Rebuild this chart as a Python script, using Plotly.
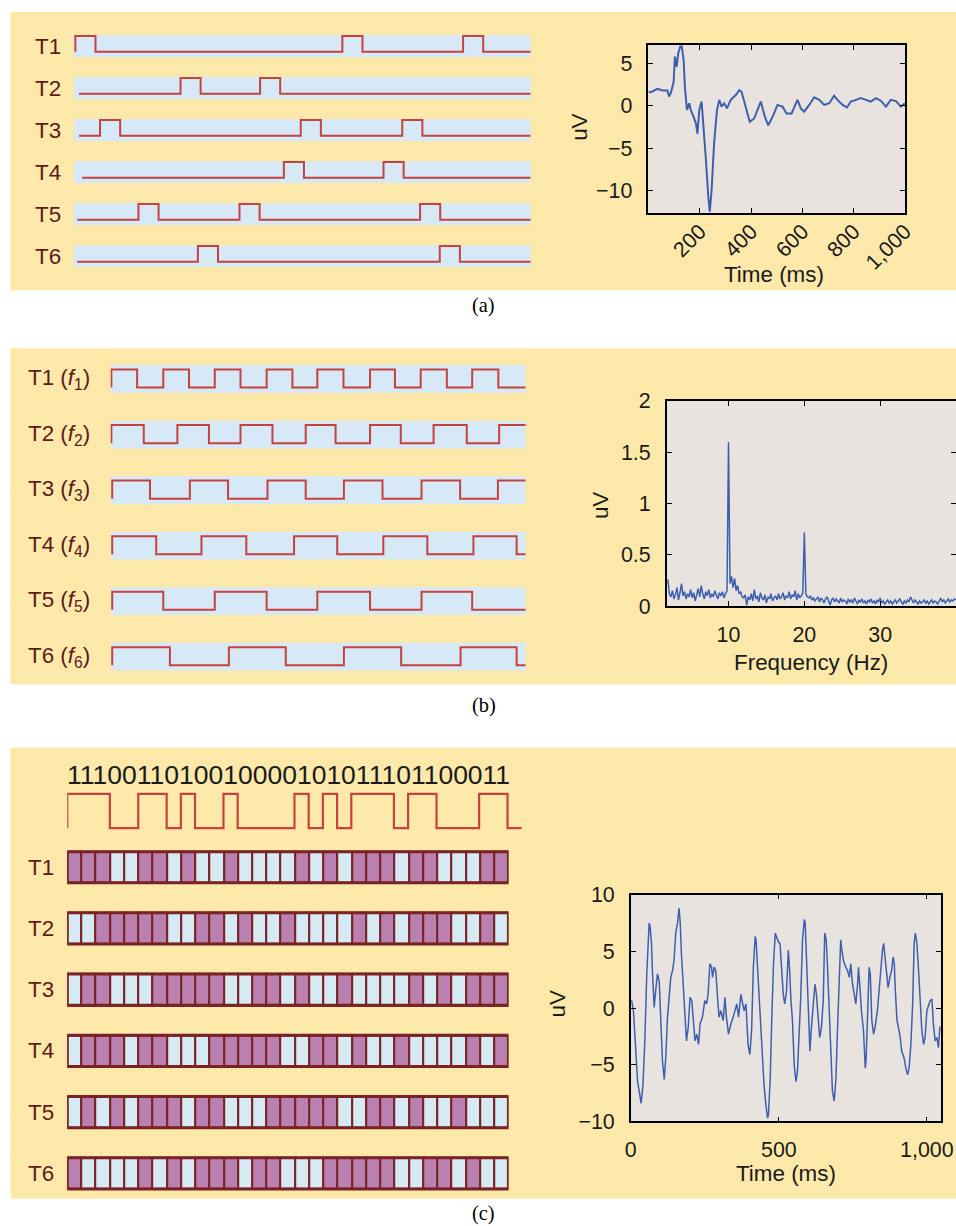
import numpy as np
import plotly.graph_objects as go

# The photographed page shows the plot slightly reduced and offset; positions below are
# reference-picture pixels, converted to page pixels with this calibration.
S, CX, CY = 0.98, 5.5, 12.0
PW, PH = 972, 1240

# ---------------- data ----------------
# (a) transient stimulation: row start and pulse onsets (time units 0..1000)
a_labels = ["T1", "T2", "T3", "T4", "T5", "T6"]
a_starts = [4, 12, 12, 19, 8, 8]
a_onsets = [[4, 588, 852], [234, 408], [58, 497, 719], [460, 678], [142, 363, 758], [272, 801]]
a_width = 44

erp_t = [0, 9, 35, 55, 74, 80, 87, 98, 103, 110, 116, 124, 130, 137, 142, 150, 159, 165, 176, 185,
         191, 198, 207, 215, 224, 233, 239, 246, 256, 267, 276, 285, 295, 306, 321, 341, 354, 363, 380, 395,
         412, 425, 438, 454, 467, 484, 503, 523, 538, 558, 581, 594, 607, 627, 646, 666, 685, 705, 724, 737,
         757, 774, 789, 809, 828, 848, 867, 887, 906, 926, 945, 965, 984, 1000]
erp_v = [1.65, 1.6, 2.0, 1.8, 1.8, 1.1, 1.5, 2.8, 5.8, 4.6, 6.2, 7.0, 7.0, 5.4, 2.2, -0.5, 0.3, -0.5, -1.3, -2.1,
         -3.3, -0.5, 0.5, -2.5, -6.4, -10.7, -12.5, -10.0, -4.4, -0.5, 0.7, -0.1, 0.3, -0.3, 0.7, 1.3, 1.85, 1.65, -0.1, -1.9,
         -1.5, -0.5, 0.5, -1.3, -2.3, -1.3, 0.1, -0.1, -0.9, -0.9, 0.7, -0.3, -0.7, 0.1, 1.0, 0.7, 0.1, 0.3, 1.2, 0.7,
         0.1, -0.2, 0.5, 0.7, 0.9, 0.7, 0.5, 0.9, 0.6, -0.1, 0.7, 0.55, -0.1, 0.3]

# (b) frequency-coded stimulation: edge times of each square wave (starts high)
b_labels = ["T1 (<i>f</i><sub>1</sub>)", "T2 (<i>f</i><sub>2</sub>)", "T3 (<i>f</i><sub>3</sub>)",
            "T4 (<i>f</i><sub>4</sub>)", "T5 (<i>f</i><sub>5</sub>)", "T6 (<i>f</i><sub>6</sub>)"]
b_edges = [
    [2, 64, 127, 189, 251, 313, 376, 438, 498, 561, 625, 685, 747, 810, 871, 934, 1000],
    [2, 80, 161, 237, 313, 390, 470, 542, 625, 699, 778, 858, 936, 1000],
    [4, 95, 191, 283, 378, 470, 562, 655, 749, 842, 933, 1000],
    [4, 110, 219, 327, 442, 546, 657, 763, 874, 978, 1000],
    [4, 127, 251, 376, 498, 625, 749, 871, 1000],
    [4, 143, 285, 422, 562, 700, 843, 978, 1000],
]

spec_f = np.round(np.arange(2.0, 40.0001, 0.2), 1)
spec_v = [0.26, 0.12, 0.09, 0.15, 0.07, 0.11, 0.18, 0.06, 0.13, 0.22,
          0.10, 0.14, 0.07, 0.12, 0.09, 0.16, 0.08, 0.13, 0.05, 0.11,
          0.17, 0.09, 0.20, 0.12, 0.07, 0.14, 0.10, 0.16, 0.08, 0.12,
          0.09, 0.15, 0.11, 0.07, 0.13, 0.10, 0.14, 0.08, 0.12, 0.15,
          1.60,
          0.22, 0.29, 0.18, 0.27, 0.15, 0.20, 0.12, 0.14, 0.09,
          0.08, 0.11, 0.01, 0.09, 0.06, 0.12, 0.05, 0.16, 0.07, 0.10,
          0.04, 0.13, 0.08, 0.06, 0.11, 0.03, 0.09, 0.07, 0.12, 0.05,
          0.08, 0.10, 0.06, 0.12, 0.07, 0.09, 0.13, 0.06, 0.10, 0.08,
          0.14, 0.07, 0.11, 0.09, 0.15, 0.06, 0.12, 0.08, 0.10, 0.13,
          0.72,
          0.12, 0.09, 0.08, 0.10, 0.06, 0.08, 0.05, 0.07, 0.09,
          0.04, 0.08, 0.06, 0.03, 0.07, 0.09, 0.05, 0.01, 0.06, 0.08,
          0.04, 0.07, 0.05, 0.03, 0.08, 0.04, 0.06, 0.05, 0.02, 0.07,
          0.04, 0.06, 0.03, 0.08, 0.05, 0.02, 0.06, 0.04, 0.07, 0.03,
          0.05, 0.02, 0.06, 0.04, 0.07, 0.03, 0.05, 0.02, 0.06, 0.04,
          0.08, 0.03, 0.05, 0.02, 0.04, 0.06, 0.03, 0.05, 0.02, 0.04,
          0.06, 0.03, 0.05, 0.07, 0.04, 0.02, 0.05, 0.03, 0.06, 0.04,
          0.09, 0.05, 0.03, 0.06, 0.04, 0.02, 0.05, 0.03, 0.04, 0.06,
          0.03, 0.05, 0.02, 0.04, 0.06, 0.03, 0.05, 0.04, 0.02, 0.05,
          0.08, 0.04, 0.06, 0.03, 0.05, 0.07, 0.04, 0.06, 0.05, 0.07, 0.06]

# (c) code-modulated stimulation
code_bits = "1110011010010000101011101100011"
c_labels = ["T1", "T2", "T3", "T4", "T5", "T6"]
c_rows = ["1110011010010000101011101100011",
          "0011111001101001000010101110010",
          "0110001111100110100100001010111",
          "0111011000111110011010010000101",
          "0101011101100011111001101001000",
          "1000010101110110001111100110100"]

eeg_t = [0, 3, 9, 17, 23, 30, 35, 41, 47, 54,
         59, 62, 65, 70, 73, 79, 84, 90, 96, 101,
         107, 113, 118, 124, 130, 135, 141, 146, 152, 158,
         163, 167, 171, 177, 182, 188, 194, 200, 206, 212,
         217, 223, 229, 234, 242, 250, 256, 261, 267, 273,
         276, 282, 287, 293, 298, 304, 312, 318, 323, 330,
         338, 346, 352, 358, 364, 372, 377, 383, 389, 396,
         402, 408, 414, 420, 423, 428, 434, 439, 445, 450,
         456, 462, 465, 471, 476, 482, 488, 493, 499, 504,
         509, 515, 520, 526, 532, 536, 541, 546, 552, 558,
         563, 569, 574, 580, 586, 589, 593, 599, 605, 610,
         616, 622, 627, 633, 638, 644, 650, 655, 660, 664,
         670, 676, 681, 687, 693, 698, 704, 709, 713, 718,
         726, 732, 738, 743, 749, 755, 760, 766, 769, 774,
         779, 786, 792, 795, 800, 805, 809, 814, 820, 825,
         833, 839, 845, 850, 854, 858, 864, 869, 875, 881,
         886, 890, 893, 899, 904, 910, 915, 923, 929, 935,
         940, 946, 952, 957, 961, 966, 972, 977, 983, 989,
         994, 1000, 1006, 1011, 1017, 1022, 1028, 1034, 1039, 1044,
         1047]
eeg_v = [0.5, 0.65, -0.24, -3.5, -6.5, -7.6, -8.4, -6.8, -3.2, 3.0,
         6.3, 7.5, 7.2, 5.7, 3.3, 0.06, 1.5, 3.0, 2.4, -1.7,
         -4.7, -6.3, -4.4, -0.8, 0.95, 2.7, 3.3, 4.2, 6.7, 7.5,
         8.8, 7.5, 4.8, 2.4, -0.5, -2.9, -1.7, 0.95, 0.65, -1.7,
         -2.9, -2.3, -3.2, -1.4, -0.8, 0.65, 0.36, 1.2, 3.9, 3.6,
         2.7, 3.6, 3.3, 0.95, -0.8, -0.24, -1.1, 0.95, -0.8, -2.3,
         -1.4, -0.8, -0.24, 0.36, -0.8, 1.2, 0.5, -0.24, 0.36, -3.2,
         -4.1, -2.0, 3.6, 6.3, 6.0, 3.6, -0.24, -2.0, -4.4, -6.8,
         -8.5, -9.7, -9.4, -6.2, -1.1, 3.9, 6.6, 6.3, 5.8, 5.7,
         3.9, 1.2, 0.36, 1.5, 5.1, 3.6, 0.65, -1.1, -5.0, -6.5,
         -5.6, -2.6, 0.95, 6.0, 7.8, 7.5, 4.8, -0.5, -3.8, -1.7,
         0.36, 2.1, 1.2, -1.1, -2.6, -1.7, 0.65, 6.6, 6.0, 3.9,
         -0.24, -5.0, -7.3, -8.2, -6.2, -2.0, 3.3, 6.0, 5.1, 4.2,
         3.6, 3.3, 2.7, 3.9, 2.1, 0.95, 0.36, 2.1, 3.6, 1.8,
         -0.24, -2.0, -5.3, -4.4, -0.5, 3.6, 3.0, -1.1, -2.3, -1.7,
         -0.24, 1.8, 4.2, 5.1, 5.7, 4.8, 3.3, 1.8, 2.7, 3.3,
         4.5, 3.9, 1.8, -1.1, -1.7, -2.6, -3.8, -4.4, -5.3, -5.9,
         -5.3, -3.2, 0.36, 5.7, 6.6, 5.8, 3.3, 0.36, -2.0, -3.2,
         -2.6, -0.24, 0.36, 0.65, 0.8, -1.4, -2.9, -2.6, -3.5, -1.7,
         -1.7]

# ---------------- styles ----------------
YELLOW = "#fce9aa"
BAND = "#d7e9f6"
PLOTBG = "#e9e3e0"
RED = "#c4423f"
BLUE = "#3d5fb0"
PURPLE = "#ba80b0"
LIGHT = "#d6eaf4"
MAROON = "#7a2226"
LABEL = "#5e1a1a"
INK = "#1a1a1a"
SANS = "Liberation Sans"


def px(x):
    return min(max(((x - CX) / S) / PW, 0.0), 1.0)


def py(y):
    return min(max(1 - ((y - CY) / S) / PH, 0.0), 1.0)


def dx(a, b):
    return [px(a), px(b)]


def dy(top, bot):
    return [py(bot), py(top)]


def fs(v):
    return round(v / S, 1)


fig = go.Figure()

# (a) pulse rows
A_HI, A_LO = 0.24, -0.135
for k, (st, ons) in enumerate(zip(a_starts, a_onsets)):
    yc = -k
    xs, ys = [st], [yc + A_LO]
    for o in ons:
        xs += [o, o, o + a_width, o + a_width]
        ys += [yc + A_LO, yc + A_HI, yc + A_HI, yc + A_LO]
    xs.append(1000)
    ys.append(yc + A_LO)
    fig.add_trace(go.Scatter(x=xs, y=ys, mode="lines", line=dict(color=RED, width=2),
                             xaxis="x", yaxis="y", hoverinfo="skip"))

fig.add_trace(go.Scatter(x=erp_t, y=erp_v, mode="lines", line=dict(color=BLUE, width=2),
                         xaxis="x2", yaxis="y2", hoverinfo="skip"))

# (b) square waves
B_HI, B_LO = 0.17, -0.155
for k, edges in enumerate(b_edges):
    yc = -k
    xs, ys = [edges[0]], [yc + B_LO]
    for i in range(len(edges) - 1):
        lev = yc + (B_HI if i % 2 == 0 else B_LO)
        xs += [edges[i], edges[i + 1]]
        ys += [lev, lev]
    fig.add_trace(go.Scatter(x=xs, y=ys, mode="lines", line=dict(color=RED, width=2),
                             xaxis="x3", yaxis="y3", hoverinfo="skip"))

fig.add_trace(go.Scatter(x=spec_f, y=spec_v, mode="lines", line=dict(color=BLUE, width=1.5),
                         xaxis="x4", yaxis="y4", hoverinfo="skip"))

# (c) code waveform
bits = [int(b) for b in code_bits]
cx = [0] + list(range(len(bits))) + [len(bits), len(bits) + 1]
cy = [0] + bits + [0, 0]
fig.add_trace(go.Scatter(x=cx, y=cy, mode="lines", line=dict(color=RED, width=2.2, shape="hv"),
                         xaxis="x5", yaxis="y5", hoverinfo="skip"))

# (c) cell grids
CELL_H = 0.51
for k, row in enumerate(c_rows):
    fig.add_trace(go.Bar(x=list(range(len(row))), y=[CELL_H] * len(row), base=-k - CELL_H / 2,
                         width=1, marker=dict(color=[PURPLE if b == "1" else LIGHT for b in row],
                                              line=dict(color=MAROON, width=2)),
                         xaxis="x6", yaxis="y6", hoverinfo="skip"))

fig.add_trace(go.Scatter(x=eeg_t, y=eeg_v, mode="lines", line=dict(color=BLUE, width=1.5),
                         xaxis="x7", yaxis="y7", hoverinfo="skip"))

# ---------------- shapes ----------------
shapes = []
for top, bot in [(10, 290), (348, 684), (747, 1198)]:
    shapes.append(dict(type="rect", xref="paper", yref="paper", x0=px(10), x1=1.0,
                       y0=py(bot), y1=py(top), fillcolor=YELLOW, line=dict(width=0), layer="below"))
for ax in ["2", "4", "7"]:
    shapes.append(dict(type="rect", xref=f"x{ax} domain", yref=f"y{ax} domain", x0=0, x1=1, y0=0, y1=1,
                       fillcolor=PLOTBG, line=dict(width=0), layer="below"))
for k in range(6):
    shapes.append(dict(type="rect", xref="x", yref="y", x0=0, x1=1000, y0=-k - 0.26, y1=-k + 0.26,
                       fillcolor=BAND, line=dict(width=0), layer="below"))
    shapes.append(dict(type="rect", xref="x3", yref="y3", x0=0, x1=1000, y0=-k - 0.25, y1=-k + 0.25,
                       fillcolor=BAND, line=dict(width=0), layer="below"))
    shapes.append(dict(type="rect", xref="x6", yref="y6", x0=-0.5, x1=len(c_rows[k]) - 0.5,
                       y0=-k - CELL_H / 2, y1=-k + CELL_H / 2, fillcolor="rgba(0,0,0,0)",
                       line=dict(color=MAROON, width=3), layer="above"))

# ---------------- annotations ----------------
ann = []
lab_font = dict(family=SANS, size=fs(22), color=LABEL)
for k, t in enumerate(a_labels):
    ann.append(dict(text=t, xref="paper", yref="y", x=px(32), y=-k, xanchor="left", yanchor="middle",
                    showarrow=False, font=lab_font))
for k, t in enumerate(b_labels):
    ann.append(dict(text=t, xref="paper", yref="y3", x=px(25), y=-k, xanchor="left", yanchor="middle",
                    showarrow=False, font=lab_font))
for k, t in enumerate(c_labels):
    ann.append(dict(text=t, xref="paper", yref="y6", x=px(25), y=-k, xanchor="left", yanchor="middle",
                    showarrow=False, font=lab_font))

ann.append(dict(text=code_bits, xref="paper", yref="paper", x=px(288), y=py(774), xanchor="center",
                yanchor="middle", showarrow=False, font=dict(family=SANS, size=fs(26), color=INK)))

ax_font = dict(family=SANS, size=fs(22), color=INK)
for text, x, y, ang in [("Time (ms)", 773, 274, 0), ("uV", 578, 127, -90),
                        ("Frequency (Hz)", 810, 662, 0), ("uV", 600, 505, -90),
                        ("Time (ms)", 785, 1173, 0), ("uV", 557, 1003, -90)]:
    ann.append(dict(text=text, xref="paper", yref="paper", x=px(x), y=py(y), xanchor="center",
                    yanchor="middle", textangle=ang, showarrow=False, font=ax_font))

for text, y in [("(a)", 305), ("(b)", 705), ("(c)", 1213)]:
    ann.append(dict(text=text, xref="paper", yref="paper", x=px(483), y=py(y), xanchor="center",
                    yanchor="middle", showarrow=False,
                    font=dict(family="Liberation Serif", size=fs(20), color="black")))

# ---------------- axes ----------------
plotax = dict(showline=True, linecolor="black", linewidth=1.6, mirror="ticks", ticks="inside",
              ticklen=5, tickwidth=1.3, tickcolor="black", showgrid=False, zeroline=False,
              tickfont=dict(family=SANS, size=fs(21), color=INK))
hidden = dict(visible=False, showgrid=False, zeroline=False, fixedrange=True)

fig.update_layout(
    width=PW, height=PH, margin=dict(l=0, r=0, t=0, b=0),
    paper_bgcolor="white", plot_bgcolor="rgba(0,0,0,0)", showlegend=False,
    barmode="overlay", bargap=0,
    xaxis=dict(domain=dx(73, 530), range=[0, 1000], anchor="y", **hidden),
    yaxis=dict(domain=dy(25, 277), range=[-5.5, 0.5], anchor="x", **hidden),
    xaxis2=dict(domain=dx(647.7, 904), range=[0, 1000], anchor="y2",
                tickvals=[200, 400, 600, 800, 1000], ticktext=["200", "400", "600", "800", "1,000"],
                tickangle=-45, ticklabelstandoff=-4, **plotax),
    yaxis2=dict(domain=dy(45, 212.7), range=[-12.63, 7.17], anchor="x2",
                tickvals=[-10, -5, 0, 5], ticktext=["\u221210", "\u22125", "0", "5"],
                ticklabelstandoff=10, **plotax),
    xaxis3=dict(domain=dx(110, 525), range=[0, 1000], anchor="y3", **hidden),
    yaxis3=dict(domain=dy(351, 684), range=[-5.5, 0.5], anchor="x3", **hidden),
    xaxis4=dict(domain=dx(666, 955), range=[1.86, 40], anchor="y4",
                tickvals=[10, 20, 30], ticktext=["10", "20", "30"], ticklabelstandoff=8, **plotax),
    yaxis4=dict(domain=dy(400.7, 605.7), range=[0, 2], anchor="x4",
                tickvals=[0, 0.5, 1, 1.5, 2], ticktext=["0", "0.5", "1", "1.5", "2"],
                ticklabelstandoff=10, **plotax),
    xaxis5=dict(domain=dx(66.7, 521), range=[0, 32], anchor="y5", **hidden),
    yaxis5=dict(domain=dy(789.9, 831.1), range=[-0.1, 1.1], anchor="x5", **hidden),
    xaxis6=dict(domain=dx(66.7, 507.7), range=[-0.5, 30.5], anchor="y6", **hidden),
    yaxis6=dict(domain=dy(836.1, 1203.1), range=[-5.5, 0.5], anchor="x6", **hidden),
    xaxis7=dict(domain=dx(630, 940), range=[0, 1047.5], anchor="y7",
                tickvals=[0, 500, 1000], ticktext=["0", "500", "1,000"], ticklabelstandoff=8, **plotax),
    yaxis7=dict(domain=dy(894, 1120.7), range=[-10, 10], anchor="x7",
                tickvals=[-10, -5, 0, 5, 10], ticktext=["\u221210", "\u22125", "0", "5", "10"],
                ticklabelstandoff=10, **plotax),
    shapes=shapes, annotations=ann,
)

fig.write_html("out.html")
